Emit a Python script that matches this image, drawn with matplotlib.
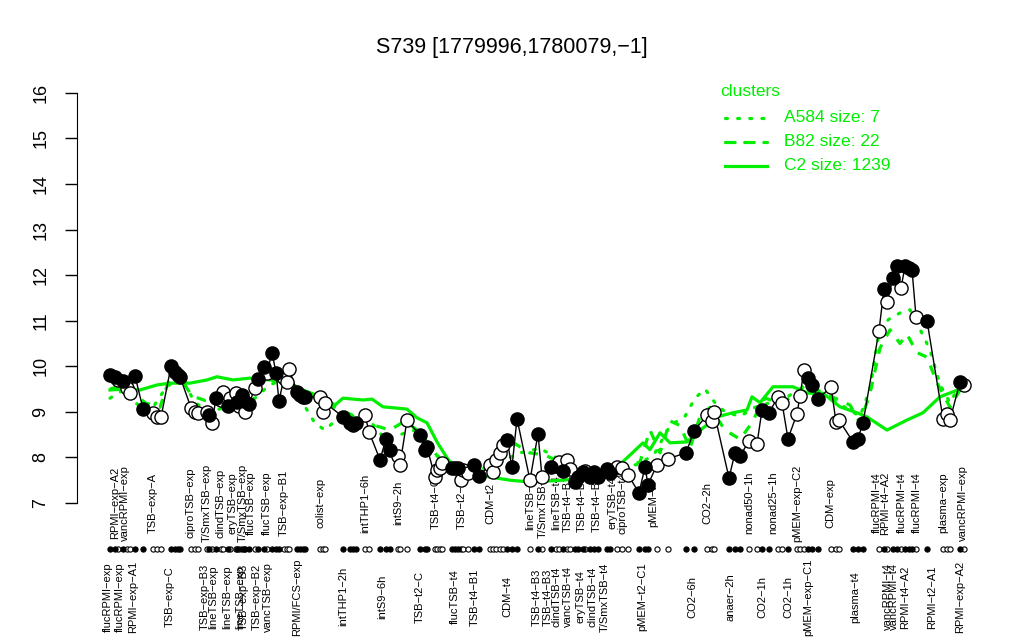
import numpy as np
import matplotlib
matplotlib.use("Agg")
import matplotlib.pyplot as plt
from matplotlib.lines import Line2D

plt.rcParams["font.family"] = ["Liberation Sans", "DejaVu Sans"]

GREEN = "#00EE00"

# sample positions along the x axis, expression values, filled (1) / open (0)
pos = [110, 115, 118, 123, 127, 130, 135, 143, 153, 157, 161, 171, 175, 178, 180,
       191, 195, 198, 207, 209, 212, 216, 221, 223, 228, 230, 236, 237, 239, 242,
       244, 245, 249, 255, 258, 264, 267, 272, 276, 279, 284, 287, 289, 297, 300,
       303, 305, 320, 323, 325, 343, 350, 353, 356, 365, 369, 380, 386, 390, 398,
       400, 407, 420, 425, 427, 435, 437, 440, 442, 452, 455, 458, 461, 463, 468,
       474, 479, 490, 493, 496, 500, 503, 507, 512, 517, 530, 538, 542, 551, 556,
       559, 563, 567, 570, 575, 578, 583, 585, 590, 594, 598, 607, 610, 617, 622,
       628, 639, 645, 648, 657, 668, 686, 694, 707, 712, 714, 729, 735, 740, 749,
       757, 762, 769, 778, 782, 788, 797, 800, 804, 808, 812, 818, 831, 836, 839,
       853, 858, 863, 879, 884, 887, 893, 897, 901, 905, 909, 912, 916, 927, 943,
       947, 950, 960, 964]
values = [9.81, 9.77, 9.70, 9.68, 9.53, 9.42, 9.79, 9.07, 8.98, 8.89, 8.88, 10.0, 9.88, 9.81, 9.77,
          9.09, 9.00, 8.97, 9.00, 8.93, 8.76, 9.30, 9.26, 9.44, 9.12, 9.30, 9.42, 9.22, 9.12, 9.37,
          9.24, 9.00, 9.17, 9.53, 9.72, 9.99, 9.86, 10.30, 9.86, 9.24, 9.75, 9.66, 9.94, 9.44, 9.38,
          9.33, 9.32, 9.33, 9.00, 9.20, 8.89, 8.76, 8.71, 8.76, 8.93, 8.56, 7.95, 8.41, 8.16, 8.03,
          7.84, 8.82, 8.49, 8.16, 8.22, 7.57, 7.73, 7.77, 7.88, 7.77, 7.77, 7.77, 7.50, 7.73, 7.66,
          7.84, 7.59, 7.84, 7.68, 7.95, 8.10, 8.27, 8.38, 7.79, 8.85, 7.50, 8.52, 7.57, 7.79, 7.82,
          7.90, 7.70, 7.94, 7.75, 7.46, 7.57, 7.68, 7.70, 7.57, 7.68, 7.57, 7.75, 7.66, 7.79, 7.77,
          7.62, 7.22, 7.79, 7.40, 7.84, 7.97, 8.10, 8.58, 8.93, 8.80, 9.00, 7.55, 8.10, 8.03, 8.36,
          8.30, 9.04, 8.98, 9.33, 9.20, 8.41, 8.96, 9.35, 9.92, 9.75, 9.60, 9.28, 9.55, 8.78, 8.82,
          8.34, 8.41, 8.76, 10.78, 11.70, 11.40, 11.94, 12.19, 11.72, 12.19, 12.15, 12.12, 11.09, 11.00, 8.85,
          8.95, 8.82, 9.66, 9.60]
filled = [1, 1, 0, 1, 0, 0, 1, 1, 0, 0, 0, 1, 1, 1, 1,
          0, 0, 0, 0, 1, 0, 1, 0, 0, 1, 0, 0, 1, 0, 1,
          1, 0, 1, 0, 1, 1, 0, 1, 1, 1, 0, 0, 0, 1, 1,
          1, 1, 0, 0, 0, 1, 1, 1, 1, 0, 0, 1, 1, 1, 0,
          0, 0, 1, 1, 1, 0, 0, 0, 0, 1, 1, 1, 0, 0, 0,
          1, 1, 0, 0, 0, 0, 0, 1, 1, 1, 0, 1, 0, 1, 0,
          0, 1, 0, 0, 1, 1, 1, 0, 1, 1, 1, 1, 1, 0, 0,
          0, 1, 1, 1, 0, 0, 1, 1, 0, 0, 0, 1, 1, 1, 0,
          0, 1, 1, 0, 0, 1, 0, 0, 0, 1, 1, 1, 0, 0, 0,
          1, 1, 1, 0, 1, 0, 1, 1, 0, 1, 1, 1, 0, 1, 0,
          0, 0, 1, 0]

# cluster profiles
c2_pos = [110, 125, 140, 157, 170, 190, 207, 217, 233, 250, 270, 290, 303, 323, 335,
          343, 363, 372, 383, 393, 407, 417, 427, 437, 447, 453, 470, 490, 510, 530,
          563, 593, 617, 627, 643, 650, 660, 670, 687, 697, 717, 733, 747, 752, 760,
          773, 793, 808, 823, 840, 857, 867, 887, 907, 923, 940, 953, 963]
c2_val = [9.48, 9.50, 9.48, 9.59, 9.63, 9.63, 9.70, 9.77, 9.70, 9.74, 9.70, 9.63, 9.48, 9.31, 9.15,
          9.30, 9.26, 9.28, 9.11, 9.09, 9.06, 8.87, 8.76, 8.34, 7.99, 7.83, 7.66, 7.57, 7.50, 7.46,
          7.50, 7.57, 7.79, 7.99, 8.32, 8.17, 8.54, 8.32, 8.34, 8.54, 8.89, 8.98, 9.04, 9.33, 9.20,
          9.55, 9.55, 9.41, 9.41, 9.11, 8.98, 8.89, 8.60, 8.82, 8.98, 9.33, 9.44, 9.53]

b82_pos = [110, 125, 135, 145, 160, 172, 180, 192, 205, 215, 230, 245, 260, 272, 285,
           300, 320, 340, 355, 365, 375, 390, 405, 420, 435, 445, 460, 480, 500, 515,
           530, 545, 560, 580, 600, 620, 640, 650, 660, 670, 680, 690, 700, 710, 725,
           740, 750, 765, 780, 795, 805, 820, 835, 850, 860, 870, 880, 890, 900, 907,
           917, 927, 937, 950, 960]
b82_val = [9.5, 9.6, 9.4, 9.2, 9.1, 9.9, 9.75, 9.35, 9.25, 9.3, 9.4, 9.3, 9.55, 9.9, 9.7,
           9.5, 9.25, 9.05, 8.9, 8.95, 8.7, 8.6, 8.8, 8.55, 8.1, 7.8, 7.6, 7.7, 8.0, 8.3,
           8.1, 8.05, 7.9, 7.65, 7.6, 7.75, 7.9, 8.6, 8.1, 8.8, 8.7, 8.2, 8.9, 9.1, 8.6,
           8.4, 8.7, 9.3, 9.2, 9.35, 9.6, 9.45, 9.3, 9.15, 8.76, 9.4, 10.4, 10.8, 10.5, 10.7,
           10.3, 10.2, 9.64, 9.1, 9.48]

a584_pos = [110, 125, 135, 150, 165, 180, 195, 210, 225, 240, 255, 270, 285, 300, 315,
            325, 340, 355, 370, 385, 400, 415, 430, 445, 460, 480, 500, 520, 540, 560,
            580, 600, 620, 640, 655, 670, 685, 695, 705, 715, 725, 740, 755, 770, 785,
            800, 815, 830, 845, 860, 870, 880, 890, 900, 910, 917, 930, 940, 950, 960]
a584_val = [9.3, 9.5, 9.2, 9.0, 9.5, 9.8, 9.2, 9.0, 9.1, 9.2, 9.3, 9.6, 9.7, 9.3, 8.75,
            8.6, 8.9, 8.9, 8.8, 8.4, 8.5, 8.6, 8.3, 7.8, 7.6, 7.65, 7.9, 8.1, 8.2, 7.95,
            7.7, 7.65, 7.8, 7.85, 8.1, 8.7, 8.9, 9.3, 9.5, 9.2, 9.0, 8.9, 9.1, 9.2, 9.3,
            9.5, 9.4, 9.3, 9.1, 8.9, 9.5, 10.87, 11.05, 11.17, 11.24, 10.95, 10.36, 9.6, 9.2, 9.6]

top_lab_pos = [115, 125, 153, 191, 207, 220, 233, 243, 251, 267, 284, 320, 365, 398, 436,
               462, 490, 530, 543, 556, 568, 582, 597, 612, 623, 653, 707, 749, 773, 797,
               830, 877, 885, 902, 917, 943, 963]
top_labels = ["RPMI−exp−A2", "vancRPMI−exp", "TSB−exp−A", "ciproTSB−exp", "T/SmxTSB−exp",
              "clindTSB−exp", "eryTSB−exp", "T/SmxTSB−exp", "flucTSB−exp", "flucTSB−exp",
              "TSB−exp−B1", "colist−exp", "intTHP1−6h", "intS9−2h", "TSB−t4−C",
              "TSB−t2−B", "CDM−t2", "lineTSB−t4", "T/SmxTSB−t4", "lineTSB−t4",
              "TSB−t4−B1", "TSB−t4−B2", "TSB−t4−B2", "eryTSB−t4", "ciproTSB−t4",
              "pMEM−t4", "CO2−2h", "nonad50−1h", "nonad25−1h", "pMEM−exp−C2",
              "CDM−exp", "flucRPMI−t4", "RPMI−t4−A2", "flucRPMI−t4", "flucRPMI−t4",
              "plasma−exp", "vancRPMI−exp"]

bot_lab_pos = [108, 120, 133, 170, 205, 213, 227, 240, 244, 257, 268, 297, 343, 382, 420,
               455, 475, 507, 537, 548, 557, 568, 580, 593, 605, 642, 692, 730, 762, 788,
               808, 855, 888, 894, 905, 932, 960]
bot_labels = ["flucRPMI−exp", "flucRPMI−exp", "RPMI−exp−A1", "TSB−exp−C", "TSB−exp−B3",
              "lineTSB−exp", "lineTSB−exp", "lineTSB−exp", "TSB−exp−B3", "TSB−exp−B2",
              "vancTSB−exp", "RPMI/FCS−exp", "intTHP1−2h", "intS9−6h", "TSB−t2−C",
              "flucTSB−t4", "TSB−t4−B1", "CDM−t4", "TSB−t4−B3", "TSB−t4−B3",
              "clindTSB−t4", "vancTSB−t4", "eryTSB−t4", "clindTSB−t4", "T/SmxTSB−t4",
              "pMEM−t2−C1", "CO2−6h", "anaer−2h", "CO2−1h", "CO2−1h",
              "pMEM−exp−C1", "plasma−t4", "vancRPMI−t4", "vancRPMI−t4", "RPMI−t4−A2",
              "RPMI−t2−A1", "RPMI−exp−A2"]

legend_labels = ["A584 size: 7", "B82 size: 22", "C2 size: 1239"]

pos = np.array(pos)
values = np.array(values)
filled = np.array(filled, dtype=bool)

fig = plt.figure(figsize=(10.24, 6.4), dpi=100)
ax = fig.add_axes([77 / 1024, 0.1144, 913 / 1024, 0.769])
ax.set_xlim(77, 990)
ax.set_ylim(5.6, 16.4)

# cluster lines
ax.plot(a584_pos, a584_val, color=GREEN, lw=2.3, linestyle=(0, (0.6, 3.2)),
        dash_capstyle="round", zorder=2)
ax.plot(b82_pos, b82_val, color=GREEN, lw=2.3, linestyle=(0, (3, 3)), zorder=2)
ax.plot(c2_pos, c2_val, color=GREEN, lw=2.3, zorder=2)

# sample profile
ax.plot(pos, values, color="black", lw=1, zorder=3)
ax.scatter(pos[~filled], values[~filled], s=90, facecolor="white", edgecolor="black",
           linewidth=1, zorder=4)
ax.scatter(pos[filled], values[filled], s=90, facecolor="black", edgecolor="black",
           linewidth=1, zorder=4)

# rug of samples
ax.scatter(pos[~filled], np.full((~filled).sum(), 6.0), s=14, facecolor="white",
           edgecolor="black", linewidth=0.8, zorder=4, clip_on=False)
ax.scatter(pos[filled], np.full(filled.sum(), 6.0), s=14, facecolor="black",
           edgecolor="black", linewidth=0.8, zorder=4, clip_on=False)

for x, lab in zip(top_lab_pos, top_labels):
    ax.text(x, 7.0, lab, rotation=90, ha="center", va="center", fontsize=8, zorder=1)
for x, lab in zip(bot_lab_pos, bot_labels):
    ax.text(x, 4.94, lab, rotation=90, ha="center", va="center", fontsize=8,
            clip_on=False)

# axes styling
for side in ["top", "right", "bottom"]:
    ax.spines[side].set_visible(False)
ax.spines["left"].set_bounds(7, 16)
ax.set_xticks([])
ax.set_yticks(range(7, 17))
ax.tick_params(axis="y", length=9, width=1, labelsize=13, pad=17, labelrotation=90)
for t in ax.get_yticklabels():
    t.set_ha("center")
    t.set_va("center")

fig.text(0.5, 1 - 48 / 640, "S739 [1779996,1780079,−1]", ha="center", va="center",
         fontsize=15.5)

# legend
fig.text(720 / 1024, 1 - 92 / 640, "clusters", color=GREEN, fontsize=12.5,
         ha="left", va="center")
styles = [(0, (0.6, 3.2)), (0, (3, 3)), "-"]
for i, (lab, ls) in enumerate(zip(legend_labels, styles)):
    yy = 1 - (118 + 24 * i) / 640
    fig.add_artist(Line2D([725 / 1024, 767 / 1024], [yy, yy], color=GREEN, lw=2.3,
                          linestyle=ls, dash_capstyle="round", transform=fig.transFigure))
    fig.text(784 / 1024, yy, lab, color=GREEN, fontsize=12.5, ha="left", va="center")

fig.savefig("out.png", dpi=100)
